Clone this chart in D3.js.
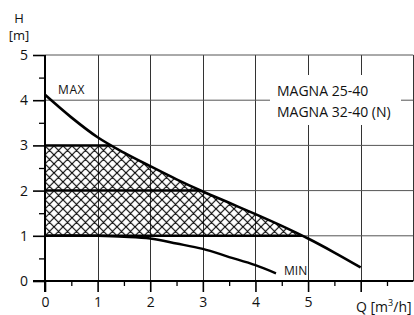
<!DOCTYPE html>
<html><head><meta charset="utf-8">
<script src="https://cdn.jsdelivr.net/npm/d3@7"></script>
<style>html,body{margin:0;padding:0;background:#fff;}svg{display:block;font-family:"Open Sans",sans-serif;}</style>
</head><body>
<script>
// ---- data ----
const maxQ = [0, 0.5, 1, 1.5, 2, 2.5, 3, 3.5, 4, 4.5, 5, 5.5, 6];
const maxH = [4.12, 3.62, 3.18, 2.84, 2.54, 2.25, 1.98, 1.73, 1.48, 1.22, 0.94, 0.63, 0.3];
const minQ = [0, 0.5, 1, 1.5, 2, 2.5, 3, 3.5, 4, 4.39];
const minH = [1.0, 1.01, 1.0, 0.98, 0.94, 0.83, 0.71, 0.53, 0.35, 0.17];
const xTickValues = [0, 1, 2, 3, 4, 5];
const xTickLabels = ["0", "1", "2", "3", "4", "5"];
const yTickValues = [0, 1, 2, 3, 4, 5];
const yTickLabels = ["0", "1", "2", "3", "4", "5"];
const hatchLevels = [1, 2, 3];
const hatchBand = [1, 3];
const legendLines = ["MAGNA 25-40", "MAGNA 32-40 (N)"];
const curveLabels = ["MAX", "MIN"];

const W = 414, H = 315;
const x = d3.scaleLinear().domain([0, 7]).range([45, 413.3]);
const y = d3.scaleLinear().domain([0, 5]).range([281, 55]);

const svg = d3.select("body").append("svg").attr("width", W).attr("height", H);
const defs = svg.append("defs");

// hatch pattern
const pat = defs.append("pattern").attr("id", "hatch").attr("patternUnits", "userSpaceOnUse")
  .attr("width", 9).attr("height", 9).attr("x", x(0)).attr("y", y(1));
pat.append("path").attr("d", "M0,0L9,9M0,9L9,0M-1,1L1,-1M8,10L10,8M-1,8L1,10M8,-1L10,1")
  .attr("stroke", "#000").attr("stroke-width", 1.1).attr("fill", "none");

const maxPts = maxQ.map((q, i) => [q, maxH[i]]);
const minPts = minQ.map((q, i) => [q, minH[i]]);

const line = d3.line().x(d => x(d[0])).y(d => y(d[1])).curve(d3.curveMonotoneX);
const underMax = d3.area().x(d => x(d[0])).y0(y(0)).y1(d => y(d[1])).curve(d3.curveMonotoneX);

// clip: band between hatch levels
defs.append("clipPath").attr("id", "band").append("rect")
  .attr("x", x(0)).attr("y", y(hatchBand[1])).attr("width", x(7) - x(0)).attr("height", y(hatchBand[0]) - y(hatchBand[1]));
// clip: under max curve
defs.append("clipPath").attr("id", "under").append("path").attr("d", underMax(maxPts));

// grid
const g = svg.append("g");
g.selectAll(".vg").data(d3.range(1, 8)).join("line")
  .attr("x1", d => Math.round(x(d)) + 0.5).attr("x2", d => Math.round(x(d)) + 0.5)
  .attr("y1", y(5)).attr("y2", y(0)).attr("stroke", "#333").attr("stroke-width", 1);
g.selectAll(".hg").data(d3.range(1, 6)).join("line")
  .attr("x1", x(0)).attr("x2", x(7)).attr("y1", d => y(d)).attr("y2", d => y(d))
  .attr("stroke", "#555").attr("stroke-width", 1);

// hatch region
svg.append("g").attr("clip-path", "url(#band)").append("path")
  .attr("d", underMax(maxPts)).attr("fill", "url(#hatch)");

// thick level lines clipped under max curve
svg.append("g").attr("clip-path", "url(#under)").selectAll("line").data(hatchLevels).join("line")
  .attr("x1", x(0)).attr("x2", x(7)).attr("y1", d => y(d)).attr("y2", d => y(d))
  .attr("stroke", "#000").attr("stroke-width", 2.5);

// legend box
const lg = svg.append("g");
lg.append("rect").attr("x", 270).attr("y", 75).attr("width", 131).attr("height", 50).attr("fill", "#fff");
lg.selectAll("text").data(legendLines).join("text")
  .attr("x", 277).attr("y", (d, i) => 96 + i * 21).attr("font-size", 14).attr("fill", "#111").text(d => d);

// curves
svg.append("path").attr("d", line(maxPts)).attr("fill", "none").attr("stroke", "#000").attr("stroke-width", 2.6);
svg.append("path").attr("d", line(minPts)).attr("fill", "none").attr("stroke", "#000").attr("stroke-width", 2.4);

// axes
const xAxis = d3.axisBottom(x).tickValues(xTickValues).tickSize(11).tickFormat((d, i) => xTickLabels[i]);
const xa = svg.append("g").attr("transform", `translate(0,${y(0)})`).call(xAxis);
xa.select(".domain").remove();
xa.selectAll(".tick line").attr("stroke", "#000").attr("stroke-width", 1.6);
xa.selectAll(".tick text").attr("font-size", 14).attr("font-family", "Open Sans").attr("fill", "#111").attr("dy", "1.05em").attr("y", 11);
const xMinor = d3.axisBottom(x).tickValues(d3.range(0.5, 7, 1)).tickSize(5).tickFormat("");
const xm = svg.append("g").attr("transform", `translate(0,${y(0)})`).call(xMinor);
xm.select(".domain").remove();
xm.selectAll(".tick line").attr("stroke", "#000").attr("stroke-width", 1.3);
// tick at 6 (no label)
const x6 = d3.axisBottom(x).tickValues([6]).tickSize(11).tickFormat("");
const x6g = svg.append("g").attr("transform", `translate(0,${y(0)})`).call(x6);
x6g.select(".domain").remove();
x6g.selectAll(".tick line").attr("stroke", "#000").attr("stroke-width", 1.6);

const yAxis = d3.axisLeft(y).tickValues(yTickValues).tickSize(12).tickFormat((d, i) => yTickLabels[i]);
const ya = svg.append("g").attr("transform", `translate(${x(0)},0)`).call(yAxis);
ya.select(".domain").remove();
ya.selectAll(".tick line").attr("stroke", "#000").attr("stroke-width", 1.6);
ya.selectAll(".tick text").attr("font-size", 14).attr("font-family", "Open Sans").attr("fill", "#111").attr("x", -17);
const yMinor = d3.axisLeft(y).tickValues(d3.range(0.5, 5, 1)).tickSize(6).tickFormat("");
const ym = svg.append("g").attr("transform", `translate(${x(0)},0)`).call(yMinor);
ym.select(".domain").remove();
ym.selectAll(".tick line").attr("stroke", "#000").attr("stroke-width", 1.3);

// axis lines
svg.append("line").attr("x1", x(0) - 12).attr("x2", x(7)).attr("y1", y(0)).attr("y2", y(0)).attr("stroke", "#000").attr("stroke-width", 1.8);
svg.append("line").attr("x1", x(0)).attr("x2", x(0)).attr("y1", y(5)).attr("y2", y(0) + 11).attr("stroke", "#000").attr("stroke-width", 2);

// axis titles
svg.append("text").attr("x", 19).attr("y", 23).attr("text-anchor", "middle").attr("font-size", 13).attr("fill", "#111").text("H");
svg.append("text").attr("x", 19).attr("y", 40).attr("text-anchor", "middle").attr("font-size", 13).attr("fill", "#111").text("[m]");
const qt = svg.append("text").attr("x", 356).attr("y", 312).attr("font-size", 14).attr("fill", "#111");
qt.append("tspan").text("Q [m");
qt.append("tspan").attr("font-size", 9).attr("dy", -6).text("3");
qt.append("tspan").attr("dy", 6).text("/");
qt.append("tspan").text("h]");

// curve labels
svg.append("text").attr("x", 58).attr("y", 94).attr("font-size", 12).attr("letter-spacing", 0.6).attr("fill", "#111").text(curveLabels[0]);
svg.append("text").attr("x", 284).attr("y", 275).attr("font-size", 12).attr("fill", "#111").text(curveLabels[1]);
</script>
</body></html>
